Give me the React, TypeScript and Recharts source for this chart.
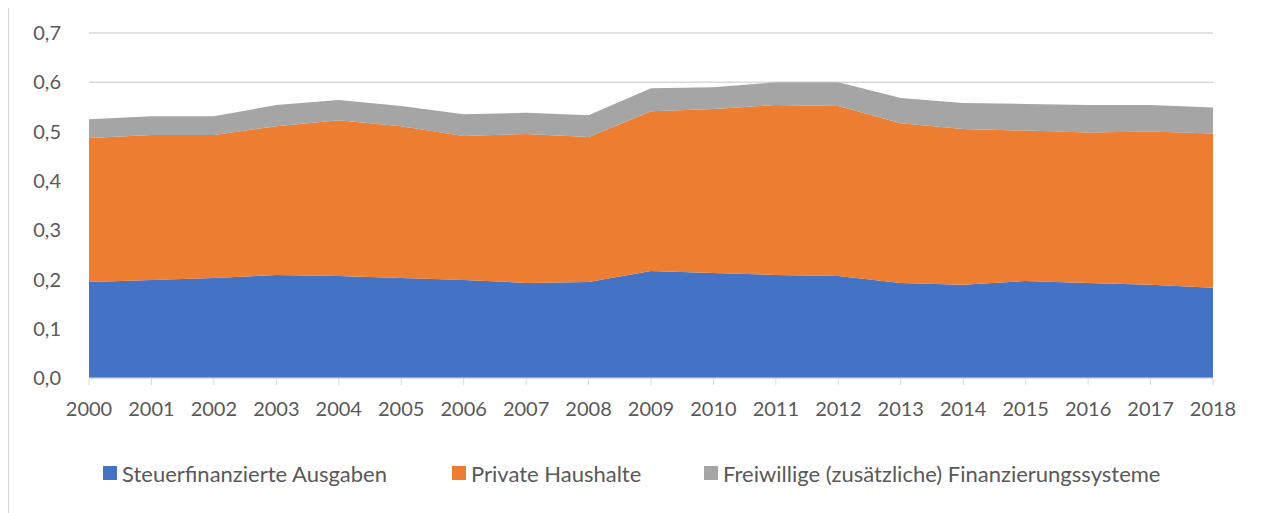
import { AreaChart, Area, XAxis, YAxis, CartesianGrid, Legend } from "recharts";

// Jahre
const years = [
  "2000", "2001", "2002", "2003", "2004", "2005", "2006", "2007", "2008", "2009",
  "2010", "2011", "2012", "2013", "2014", "2015", "2016", "2017", "2018",
];

// values
const steuer = [
  0.195, 0.199, 0.203, 0.209, 0.207, 0.203, 0.199, 0.193, 0.195, 0.217,
  0.213, 0.209, 0.207, 0.193, 0.189, 0.197, 0.193, 0.189, 0.183,
];
const privat = [
  0.292, 0.294, 0.29, 0.302, 0.316, 0.308, 0.292, 0.302, 0.294, 0.324,
  0.333, 0.345, 0.345, 0.324, 0.316, 0.305, 0.305, 0.311, 0.313,
];
const freiwillig = [
  0.038, 0.038, 0.038, 0.043, 0.041, 0.041, 0.044, 0.043, 0.044, 0.047,
  0.044, 0.046, 0.048, 0.051, 0.053, 0.054, 0.056, 0.054, 0.053,
];

const yTicks = [0, 0.1, 0.2, 0.3, 0.4, 0.5, 0.6, 0.7];

const seriesNames = [
  "Steuerfinanzierte Ausgaben",
  "Private Haushalte",
  "Freiwillige (zusätzliche) Finanzierungssysteme",
];
const colors = ["#4472C4", "#ED7D31", "#A5A5A5"];

const data = years.map((y, i) => ({
  year: y,
  steuer: steuer[i],
  privat: privat[i],
  freiwillig: freiwillig[i],
}));

const font = "Lato, 'Open Sans', sans-serif";
const textColor = "#595959";
const slotWidths = [349, 252, undefined];

// legend in the same order as the series, not the sorted payload
function MyLegend() {
  return (
    <div
      style={{
        display: "flex",
        alignItems: "center",
        height: 30,
        fontFamily: font,
        fontSize: 22,
        color: textColor,
        whiteSpace: "nowrap",
      }}
    >
      {seriesNames.map((name, i) => (
        <div
          key={name}
          style={{ display: "flex", alignItems: "center", width: slotWidths[i] }}
        >
          <span
            style={{
              display: "inline-block",
              width: 14,
              height: 14,
              background: colors[i],
              marginRight: 5,
            }}
          />
          <span>{name}</span>
        </div>
      ))}
    </div>
  );
}

export default function App() {
  return (
    <div
      style={{
        width: 1253,
        height: 510,
        border: "1px solid #d9d9d9",
        background: "#fff",
        marginTop: -1,
      }}
    >
      <AreaChart
        width={1253}
        height={504}
        data={data}
        margin={{ top: 25, right: 49, left: 0, bottom: 44 }}
      >
        <CartesianGrid vertical={false} stroke="#d9d9d9" strokeWidth={1.5} />
        <XAxis
          dataKey="year"
          height={60}
          tickSize={7}
          tickMargin={17}
          stroke="#d9d9d9"
          tick={{ fill: textColor, fontSize: 20, fontFamily: font }}
          interval={0}
        />
        <YAxis
          domain={[0, 0.7]}
          ticks={yTicks}
          width={80}
          axisLine={false}
          tickLine={false}
          tickMargin={22}
          tickFormatter={(v: number) => v.toFixed(1).replace(".", ",")}
          tick={{ fill: textColor, fontSize: 20, fontFamily: font }}
        />
        <Legend
          verticalAlign="bottom"
          content={<MyLegend />}
          wrapperStyle={{ left: 94, top: 450, width: "auto" }}
        />
        <Area
          type="linear"
          dataKey="steuer"
          name={seriesNames[0]}
          stackId="1"
          stroke="none"
          fill={colors[0]}
          fillOpacity={1}
          isAnimationActive={false}
        />
        <Area
          type="linear"
          dataKey="privat"
          name={seriesNames[1]}
          stackId="1"
          stroke="none"
          fill={colors[1]}
          fillOpacity={1}
          isAnimationActive={false}
        />
        <Area
          type="linear"
          dataKey="freiwillig"
          name={seriesNames[2]}
          stackId="1"
          stroke="none"
          fill={colors[2]}
          fillOpacity={1}
          isAnimationActive={false}
        />
      </AreaChart>
    </div>
  );
}
